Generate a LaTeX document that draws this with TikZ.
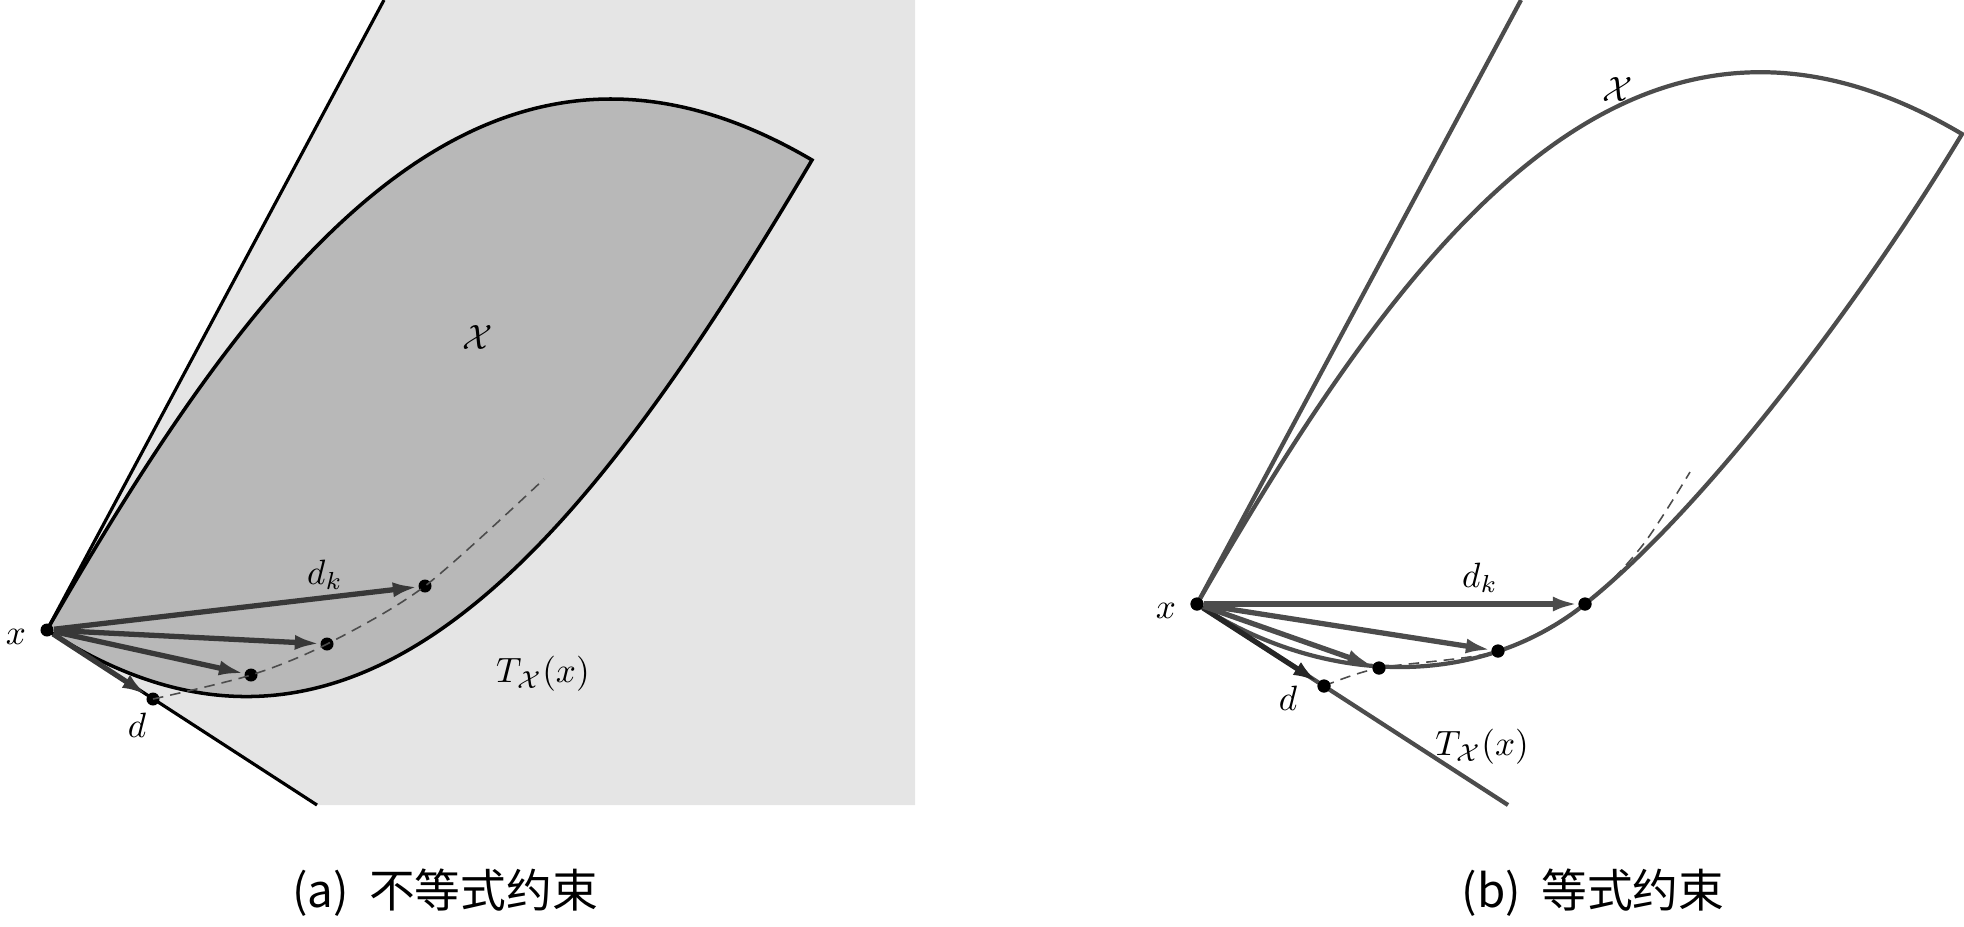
\documentclass[tikz,border=0pt]{standalone}
\usepackage{amsmath, amssymb}
\usepackage{fontspec}
\newfontfamily\cjk{Noto Sans CJK SC}
\usetikzlibrary{arrows.meta}

\begin{document}
\begin{tikzpicture}[x=0.01cm, y=-0.01cm,
	dot/.style={circle, fill=black, inner sep=0pt, minimum size=0.13cm},
	vec/.style={-{Latex[length=0.25cm, width=0.15cm]}, line width=1.5pt},
	guess/.style={dash pattern=on 3pt off 2pt, line width=0.45pt, black!70},
	caption/.style={font=\cjk\fontsize{13pt}{15pt}\selectfont}]
	\useasboundingbox (0,0) rectangle (1964,926);
	% (a) inequality constraint
	\fill [black!10] (47,630) -- (384,0) -- (915,0) -- (915,805) -- (317,805) -- cycle;
	\filldraw [black, line width=1pt, fill=black!28]
		(47,630) .. controls (257,265) and (482,-34) .. (812,160)
		.. controls (588,538) and (360,834) .. (47,630) -- cycle;
	\node [dot] (xa) at (47,630) {};
	\node [dot] (da) at (153,699) {};
	\node [dot] (pa1) at (251,675) {};
	\node [dot] (pa2) at (327,644) {};
	\node [dot] (pa3) at (425,586) {};
	\coordinate (ua) at (384,0);
	\coordinate (va) at (317,805);
	\draw [black, line width=0.9pt] (ua) -- (xa.center) -- (va);
	\draw [guess] plot [smooth] coordinates {(153,699) (251,675) (327,644) (425,586) (544,479)};
	\draw [vec, black!78] (xa) -- (da);
	\draw [vec, black!78] (xa) -- (pa1);
	\draw [vec, black!78] (xa) -- (pa2);
	\draw [vec, black!78] (xa) -- (pa3);
	\node (lxa) at (16,637) {$x$};
	\node (lda) at (137,725) {$d$};
	\node (ldka) at (325,575) {$d_k$};
	\node (lsa) at (478,337) {$\mathcal{X}$};
	\node (lta) at (543,674) {$T_{\mathcal{X}}(x)$};
	\node [caption] (capa) at (445,893) {(a)\hspace{0.45em}不等式约束};
	% (b) equality constraint
	\node [dot] (xb) at (1197,604) {};
	\node [dot] (db) at (1324,686) {};
	\node [dot] (pb1) at (1379,668) {};
	\node [dot] (pb2) at (1498,651) {};
	\node [dot] (pb3) at (1585,604) {};
	\coordinate (ub) at (1521,0);
	\coordinate (vb) at (1508,805);
	\draw [black!70, line width=1.2pt] (ub) -- (xb.center) -- (vb);
	\draw [black!70, line width=1.2pt]
		(1197,604) .. controls (1407,239) and (1632,-62) .. (1962,134)
		.. controls (1859,305) and (1702,511) .. (pb3.center)
		.. controls (1484,685) and (1331,691) .. (xb.center);
	\draw [guess] plot [smooth] coordinates {(1324,686) (1379,668) (1498,651) (1585,604) (1642,546) (1690,472)};
	\draw [vec, black!85] (xb) -- (db);
	\draw [vec, black!70] (xb) -- (pb1);
	\draw [vec, black!70] (xb) -- (pb2);
	\draw [vec, black!70] (xb) -- (pb3);
	\node [dot] at (xb) {};
	\node [dot] at (db) {};
	\node [dot] at (pb1) {};
	\node [dot] at (pb2) {};
	\node [dot] at (pb3) {};
	\node (lxb) at (1166,611) {$x$};
	\node (ldb) at (1288,698) {$d$};
	\node (ldkb) at (1480,578) {$d_k$};
	\node (lsb) at (1618,89) {$\mathcal{X}$};
	\node (ltb) at (1482,747) {$T_{\mathcal{X}}(x)$};
	\node [caption] (capb) at (1593,893) {(b)\hspace{0.45em}等式约束};
\end{tikzpicture}
\end{document}
